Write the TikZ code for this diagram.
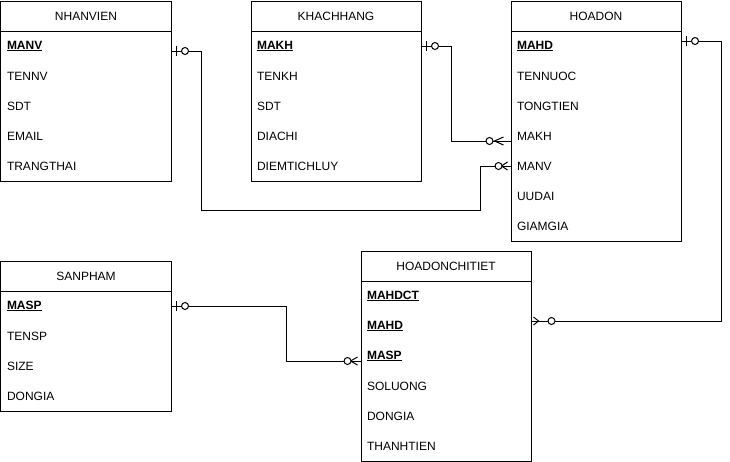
\documentclass[tikz,border=0pt]{standalone}
\usepackage{fontspec}
\setmainfont{Liberation Sans}
\newcommand\onemark[2]{%
  \begin{scope}[shift={(#1)}, xscale=#2]
    \draw (5,-5) -- (5,5);
    \draw[fill=white] (13.5,0) circle[radius=3.5pt];
  \end{scope}}
\newcommand\crowmark[5]{%
  \begin{scope}[shift={(#1)}, xscale=#2]
    \draw (#3,-4) -- (#4,0) -- (#3,4);
    \draw[fill=white] (#5,0) circle[radius=3.5pt];
  \end{scope}}
\begin{document}
\begin{tikzpicture}[x=1pt,y=-1pt, line width=1pt,
  hdr/.style={draw, minimum width=170pt, minimum height=30pt, anchor=north west, inner sep=0pt, font=\fontsize{12}{14}\selectfont},
  tbody/.style={draw, minimum width=170pt, anchor=north west, inner sep=0pt},
  row/.style={minimum width=170pt, minimum height=30pt, text width=158pt, align=left, inner xsep=6pt, inner ysep=0pt, anchor=north west, font=\fontsize{12}{14}\selectfont},
  key/.style={row, font=\fontsize{12}{14}\selectfont\bfseries}
]
\useasboundingbox (-0.5,-0.5) rectangle (729.5,460.5);

% NHANVIEN
\node[hdr] (nv) at (0,0) {NHANVIEN};
\node[tbody, minimum height=150pt] (nvb) at (0,30) {};
\node[key] (nv1) at (0,30) {\underline{MANV}};
\node[row] (nv2) at (0,60) {TENNV};
\node[row] (nv3) at (0,90) {SDT};
\node[row] (nv4) at (0,120) {EMAIL};
\node[row] (nv5) at (0,150) {TRANGTHAI};

% KHACHHANG
\node[hdr] (kh) at (250,0) {KHACHHANG};
\node[tbody, minimum height=150pt] (khb) at (250,30) {};
\node[key] (kh1) at (250,30) {\underline{MAKH}};
\node[row] (kh2) at (250,60) {TENKH};
\node[row] (kh3) at (250,90) {SDT};
\node[row] (kh4) at (250,120) {DIACHI};
\node[row] (kh5) at (250,150) {DIEMTICHLUY};

% HOADON
\node[hdr] (hd) at (510,0) {HOADON};
\node[tbody, minimum height=210pt] (hdb) at (510,30) {};
\node[key] (hd1) at (510,30) {\underline{MAHD}};
\node[row] (hd2) at (510,60) {TENNUOC};
\node[row] (hd3) at (510,90) {TONGTIEN};
\node[row] (hd4) at (510,120) {MAKH};
\node[row] (hd5) at (510,150) {MANV};
\node[row] (hd6) at (510,180) {UUDAI};
\node[row] (hd7) at (510,210) {GIAMGIA};

% SANPHAM
\node[hdr] (sp) at (0,260) {SANPHAM};
\node[tbody, minimum height=120pt] (spb) at (0,290) {};
\node[key] (sp1) at (0,290) {\underline{MASP}};
\node[row] (sp2) at (0,320) {TENSP};
\node[row] (sp3) at (0,350) {SIZE};
\node[row] (sp4) at (0,380) {DONGIA};

% HOADONCHITIET
\node[hdr] (ct) at (360,250) {HOADONCHITIET};
\node[tbody, minimum height=180pt] (ctb) at (360,280) {};
\node[key] (ct1) at (360,280) {\underline{MAHDCT}};
\node[key] (ct2) at (360,310) {\underline{MAHD}};
\node[key] (ct3) at (360,340) {\underline{MASP}};
\node[row] (ct4) at (360,370) {SOLUONG};
\node[row] (ct5) at (360,400) {DONGIA};
\node[row] (ct6) at (360,430) {THANHTIEN};

% connector end points
\coordinate (e1) at ([yshift=-5pt]nv1.east);
\coordinate (e2) at (hd5.west);
\coordinate (e3) at (kh1.east);
\coordinate (e4) at ([yshift=-5pt]hd4.west);
\coordinate (e5) at ([yshift=5pt]hd1.east);
\coordinate (e6) at ([yshift=5pt]ct2.east);
\coordinate (e7) at (sp1.east);
\coordinate (e8) at ([yshift=-5pt]ct3.west);

% connectors
\draw (e1) -- ++(30,0) |- (480,210) |- (e2);
\draw (e3) -- ++(30,0) |- (e4);
\draw (e5) -- ++(40,0) |- (e6);
\draw (e7) -- ++(115,0) |- (e8);

% markers
\onemark{e1}{1}
\onemark{e3}{1}
\onemark{e5}{1}
\onemark{e7}{1}
\crowmark{e2}{-1}{3}{9}{12}
\crowmark{e4}{-1}{7}{16}{21}
\crowmark{e6}{1}{2}{7}{20}
\crowmark{e8}{-1}{3}{10}{13}
\end{tikzpicture}
\end{document}
